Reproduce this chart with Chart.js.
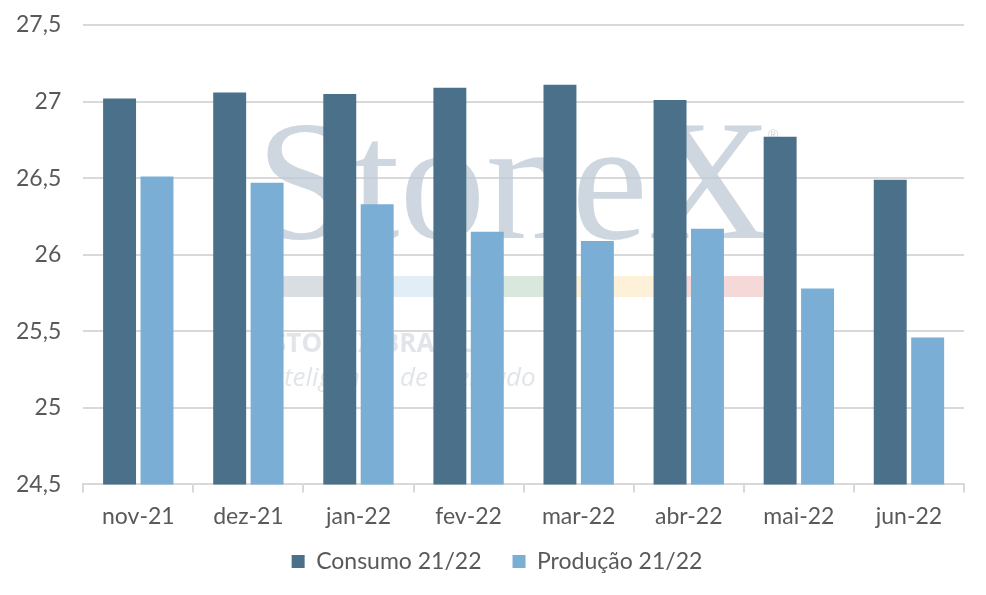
<!DOCTYPE html>
<html>
<head>
<meta charset="utf-8">
<script src="https://cdn.jsdelivr.net/npm/chart.js@4.4.0/dist/chart.umd.min.js"></script>
<style>
  html, body { margin: 0; padding: 0; background: #fff; }
  #wrap { width: 986px; height: 595px; }
</style>
</head>
<body>
<div id="wrap"><canvas id="chart"></canvas></div>
<script>
const months = ['nov-21', 'dez-21', 'jan-22', 'fev-22', 'mar-22', 'abr-22', 'mai-22', 'jun-22'];
const consumo = [27.02, 27.06, 27.05, 27.09, 27.11, 27.01, 26.77, 26.49];
const producao = [26.51, 26.47, 26.33, 26.15, 26.09, 26.17, 25.78, 25.46];
const yTicks = { min: 24.5, max: 27.5, step: 0.5 };

// faint StoneX logo behind the bars
const watermark = {
    id: 'watermark',
    beforeDatasetsDraw(chart) {
        const c = chart.ctx;
        c.save();
        c.fillStyle = 'rgba(190,202,212,0.75)';
        c.font = '172px "Liberation Serif", serif';
        c.textBaseline = 'alphabetic';
        c.fillText('StoneX', 256, 238);
        c.font = '14px "Liberation Sans", sans-serif';
        c.fillText('®', 768, 140);
        const strip = ['rgba(180,190,200,0.5)', 'rgba(190,215,235,0.45)', 'rgba(170,205,180,0.45)', 'rgba(250,225,170,0.45)', 'rgba(235,180,180,0.5)'];
        const w = 96;
        strip.forEach((col, i) => {
            c.fillStyle = col;
            c.fillRect(283 + i * w, 276, w, 21);
        });
        c.fillStyle = 'rgba(200,208,216,0.55)';
        c.font = 'bold 26px "Open Sans", sans-serif';
        c.fillText('STONEX BRASIL', 272, 352);
        c.font = 'italic 26px "Open Sans", sans-serif';
        c.fillText('Inteligência de Mercado', 262, 386);
        c.restore();
    }
};

// wide gap between legend items without the extra vertical padding,
// and centre it on the whole page rather than the padded area
const legendFix = {
    id: 'legendFix',
    beforeLayout(chart) {
        const lg = chart.legend;
        if (lg && !lg._wrapped) {
            const fit = lg.fit;
            lg.fit = function () { fit.call(this); this.height -= 21; };
            lg._wrapped = true;
        }
    },
    afterLayout(chart) {
        const lg = chart.legend;
        lg.left += 18; lg.right += 18;
        lg.top -= 21;
    }
};

const font = { family: 'Lato', size: 23 };

new Chart(document.getElementById('chart'), {
    type: 'bar',
    data: {
        labels: months,
        datasets: [
            { label: 'Consumo 21/22', data: consumo, backgroundColor: '#4a7189' },
            { label: 'Produção 21/22', data: producao, backgroundColor: '#7aaed5' }
        ]
    },
    options: {
        responsive: true,
        maintainAspectRatio: false,
        animation: false,
        datasets: { bar: { categoryPercentage: 0.68, barPercentage: 0.88 } },
        layout: { padding: { left: -6, right: 22, top: 0, bottom: 12 } },
        plugins: {
            tooltip: { enabled: false },
            legend: {
                position: 'bottom',
                labels: {
                    color: '#595959',
                    font: font,
                    boxWidth: 13,
                    boxHeight: 13,
                    padding: 31
                }
            }
        },
        scales: {
            x: {
                grid: { display: true, drawOnChartArea: false, drawTicks: true, tickLength: 8, color: '#d9d9d9', lineWidth: 2 },
                border: { display: true, color: '#d9d9d9', width: 2 },
                ticks: { color: '#595959', font: font, padding: 10 }
            },
            y: {
                min: yTicks.min,
                max: yTicks.max,
                grid: { color: '#d9d9d9', lineWidth: 2, drawTicks: false },
                border: { display: false },
                ticks: {
                    stepSize: yTicks.step,
                    color: '#595959',
                    font: font,
                    padding: 22,
                    callback: v => String(v).replace('.', ',')
                },
                afterFit: s => { s.paddingTop = 25; }
            }
        }
    },
    plugins: [watermark, legendFix]
});
</script>
</body>
</html>
